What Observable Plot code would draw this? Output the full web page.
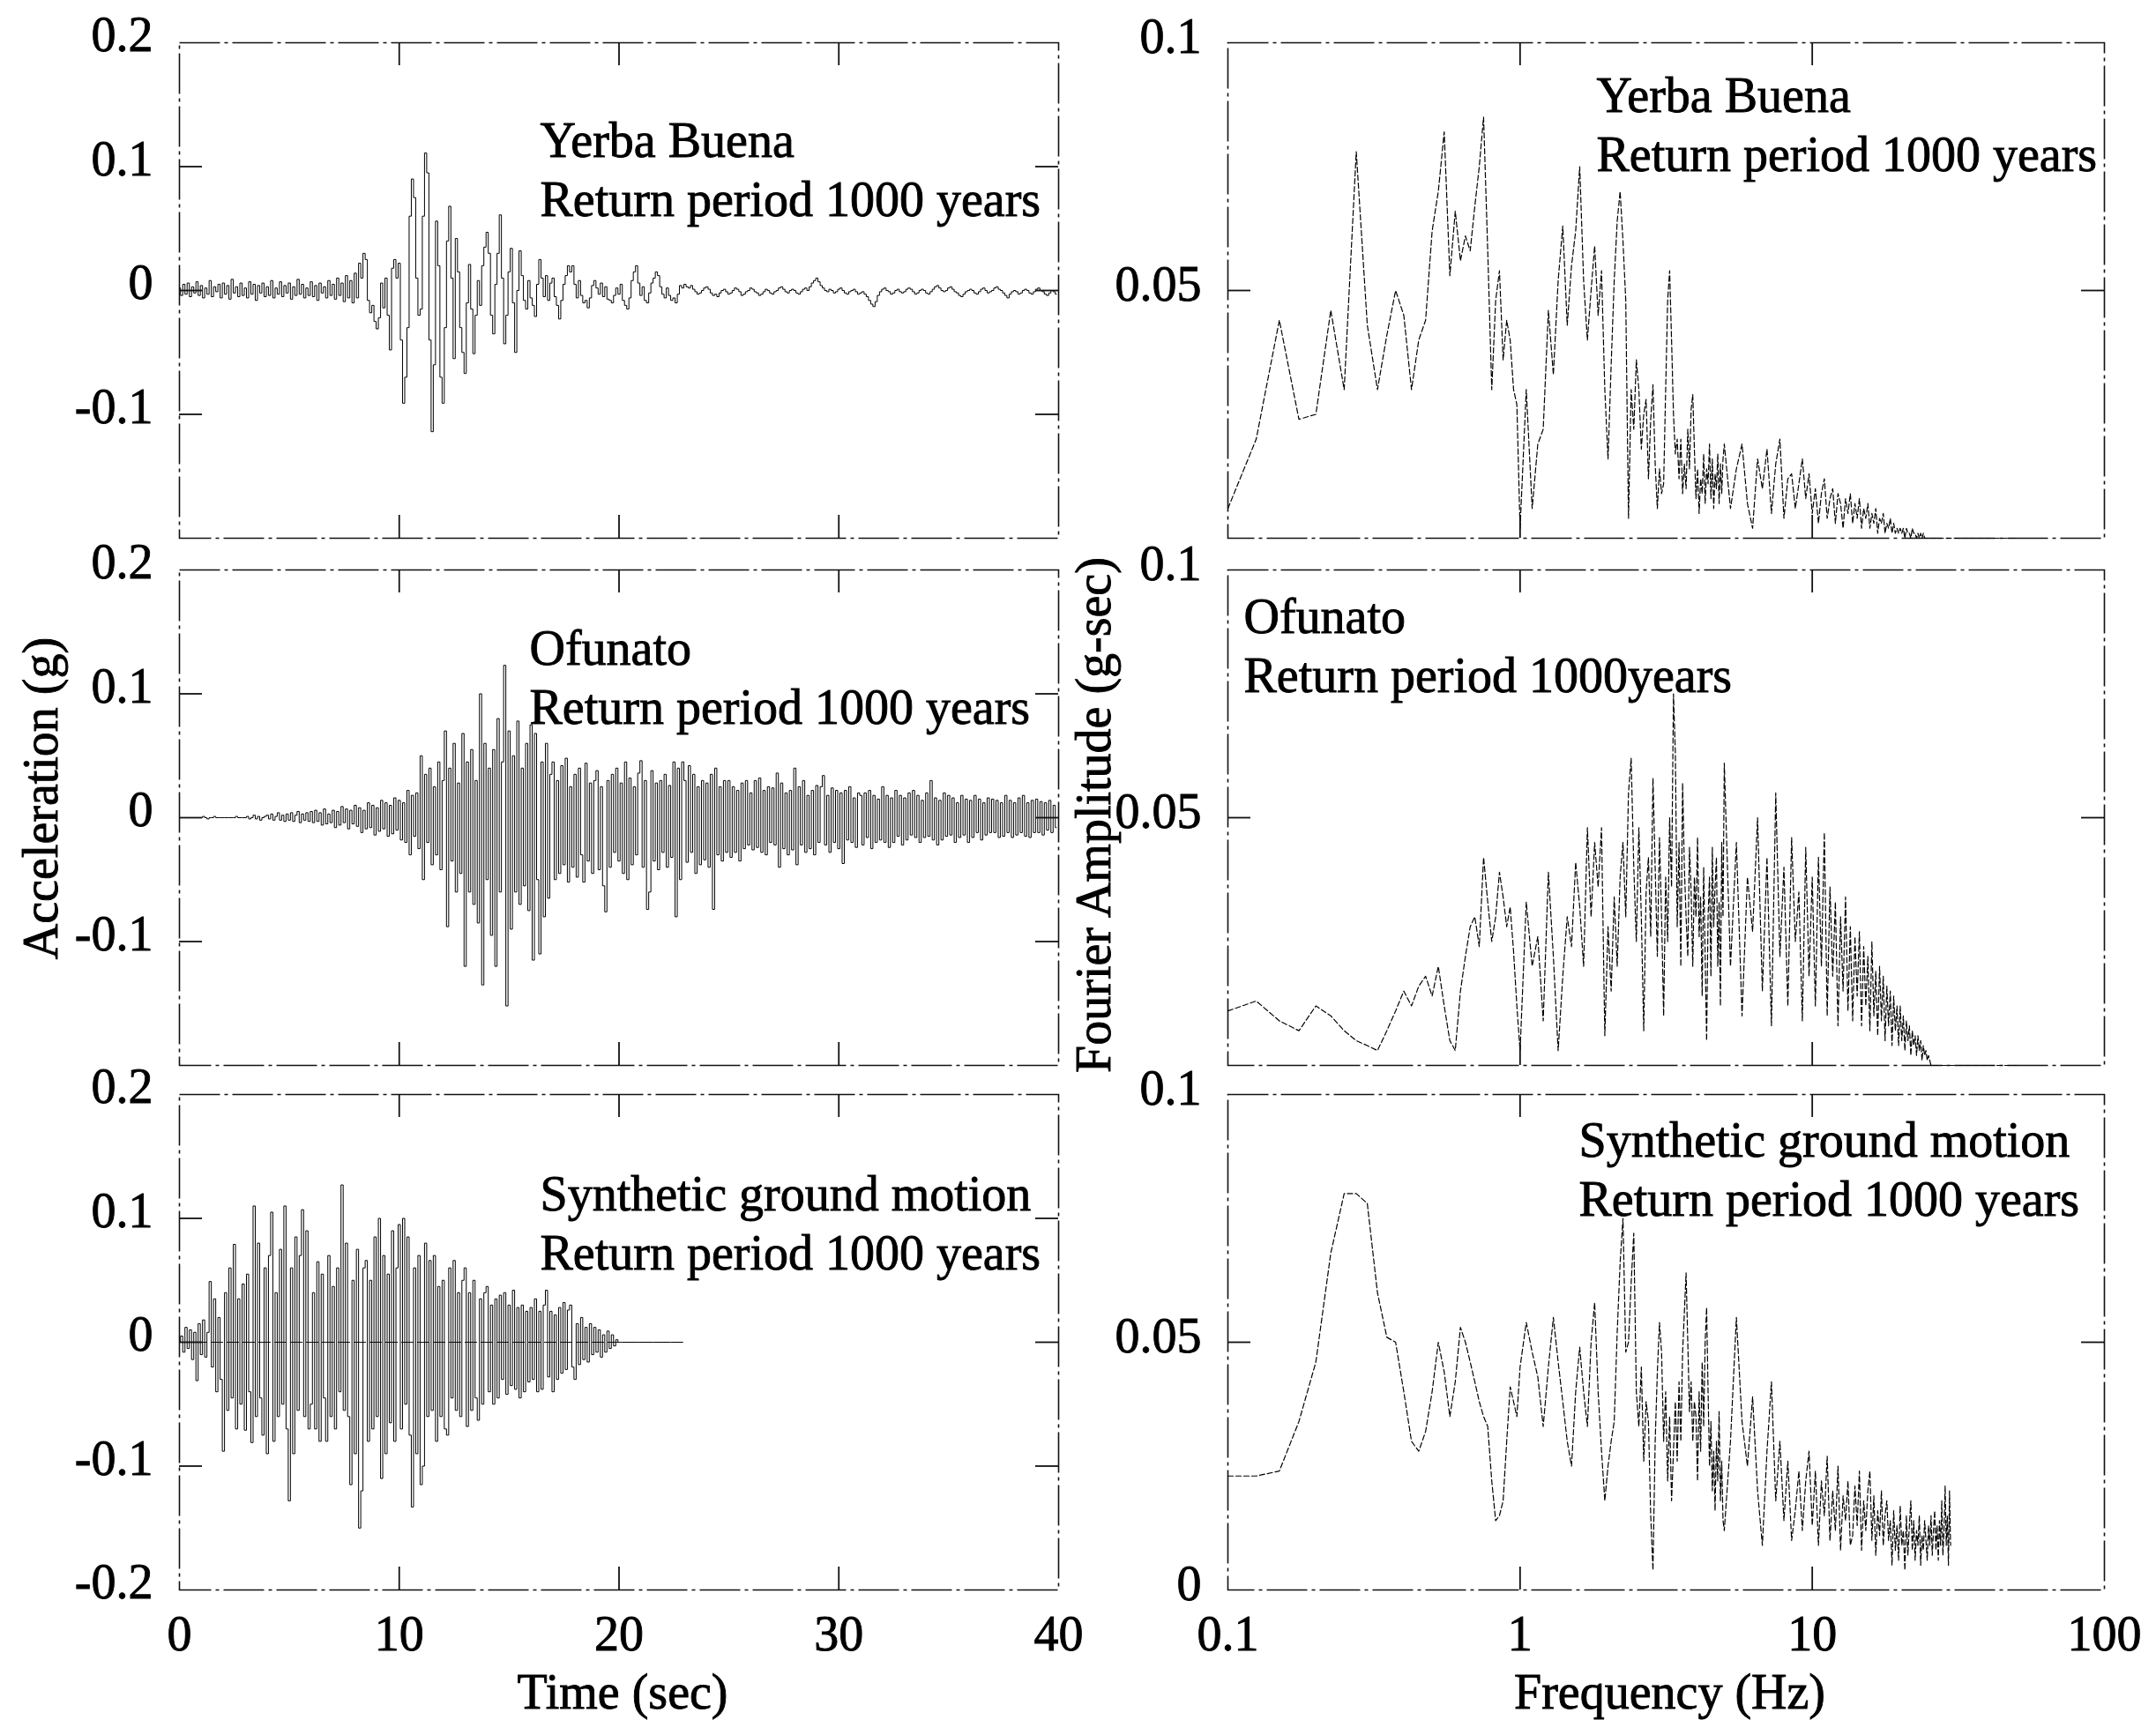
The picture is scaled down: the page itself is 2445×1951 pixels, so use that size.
<!DOCTYPE html>
<html><head><meta charset="utf-8">
<script src="https://cdn.jsdelivr.net/npm/d3@7"></script>
<script src="https://cdn.jsdelivr.net/npm/@observablehq/plot@0.6"></script>
<style>
html,body{margin:0;padding:0;background:#fff;}
#chart{position:relative;width:2445px;height:1951px;background:#fff;overflow:hidden;}
#chart svg{position:absolute;left:0;top:0;}
#chart svg text{stroke:#000;stroke-width:0.9px;paint-order:stroke;}
</style></head>
<body><div id="chart"></div>
<script>
// ---------------- DATA ----------------
// Acceleration time histories, sampled every 0.1 s, values in thousandths of g (mg)
const timeStep = 0.1;
const yerbaBuenaAccel = [
  2,-4,5,-3,6,-5,3,-2,7,-4,
  4,-6,2,-3,8,-5,3,-1,5,-6,
  6,-3,4,-7,9,-2,3,-5,6,-4,
  2,-6,7,-3,5,-8,4,-2,6,-5,
  3,-4,8,-6,2,-3,7,-5,4,-2,
  6,-7,3,-4,9,-3,5,-6,2,-4,
  7,-5,4,-8,6,-2,3,-6,8,-4,
  5,-7,10,-4,6,-9,12,-6,8,-10,
  14,-6,22,10,30,25,-8,-18,-12,-25,
  -31,-22,6,-14,10,-20,-48,18,25,10,
  22,-40,-91,-70,-30,60,90,75,10,-20,
  -15,60,111,95,-40,-114,-60,56,20,-70,
  -91,-30,40,68,10,-55,42,15,-30,-50,
  -67,-10,21,-15,-51,-20,8,-12,20,35,
  47,30,-20,-35,5,30,61,10,-43,-20,
  15,34,-10,-50,0,32,12,-8,-15,8,
  -6,-12,-21,5,25,10,-5,12,-8,6,
  10,-5,-12,-23,-8,5,12,20,15,20,
  5,-6,8,-4,-10,-8,-14,-6,4,8,
  2,-3,6,-5,3,-7,-8,-10,-4,2,
  -3,5,-8,-12,-15,-6,8,15,20,6,
  -4,3,-8,-10,-2,6,10,15,12,3,
  -3,-6,2,-4,-8,-6,-10,-3,4,2,
  5,3,2,4,1,-1,-3,-2,0,2,
  3,1,-2,-4,-3,-5,-2,0,1,-1,
  -3,-2,0,2,1,-1,-4,-3,-1,0,
  2,1,-1,-2,-4,-3,-1,1,0,-2,
  -3,-1,0,2,3,1,-1,-2,0,1,
  0,-2,-3,-1,1,2,0,3,6,8,
  10,7,4,2,0,-1,1,0,-2,-1,
  1,2,0,-2,-3,-1,0,1,-1,-3,
  -2,-1,-3,-5,-8,-11,-13,-9,-4,-1,
  1,2,0,-1,-3,-2,0,1,-1,-2,
  -1,1,2,1,-1,-3,-2,0,1,0,
  -2,-3,-1,1,3,4,2,0,-1,0,
  2,3,1,-1,-2,-4,-5,-3,-1,0,
  1,0,-2,-3,-1,1,2,0,-2,-1,
  0,2,3,1,0,-2,-4,-6,-3,-1,
  0,-1,-3,-2,0,1,0,-2,-3,-1,
  1,2,0,-1,-3,-4,-2,0,-1,-3
];
const ofunatoAccel = [
  0,0,0,0,0,0,0,0,0,0,
  0,1,0,-1,0,0,1,0,0,0,
  0,0,0,0,0,0,1,0,0,0,
  0,1,-1,0,2,-1,1,-2,0,1,
  2,-1,3,-2,1,4,-2,2,-3,3,
  -2,4,-3,2,5,-4,3,-2,4,-3,
  5,-4,6,-3,4,-6,7,-5,3,-4,
  6,-8,5,-6,9,-4,7,-9,6,-5,
  10,-7,8,-12,6,-9,12,-8,10,-14,
  8,-11,14,-9,12,-15,10,-13,16,-10,
  14,-18,12,-20,22,-30,18,-15,20,-25,
  50,-50,35,-20,40,-38,25,-30,45,-42,
  30,70,-88,40,-35,60,-60,28,-45,68,
  -120,45,-60,55,-70,30,-85,100,-135,60,
  -50,40,-95,55,-120,80,-60,45,123,-152,
  70,-90,50,-60,78,-70,40,-55,60,-75,
  75,-115,68,-50,-110,45,-80,60,-65,35,
  45,-50,30,-45,42,-38,48,-52,25,-40,
  35,-48,40,-30,-52,44,-35,28,-45,30,
  38,-42,25,-55,-76,30,-40,35,-28,40,
  -35,28,-45,45,-50,32,-38,25,-30,36,
  46,-40,30,-74,-60,38,-35,28,-42,30,
  -28,35,-40,26,-32,45,-80,40,-50,45,
  30,-36,42,-28,35,-45,25,-38,30,-34,
  28,-40,35,-74,40,-30,25,-35,30,-28,
  30,-32,25,-28,22,-35,28,-25,30,-22,
  20,-26,30,-24,32,-28,22,-30,25,-20,
  24,-22,36,-40,28,-25,20,-30,22,-26,
  40,-38,25,-22,30,-28,18,-25,22,-30,
  26,-20,25,34,-22,18,-28,24,-20,22,
  -25,20,-37,22,-18,25,-20,16,-24,20,
  18,-22,20,-16,22,-25,18,-20,15,-18,
  25,-20,18,-24,16,-20,22,-15,18,-22,
  16,-18,20,-14,22,-16,18,-20,14,-16,
  20,-15,30,-18,16,-22,14,-18,20,-15,
  18,-14,16,-20,12,-16,18,-14,15,-20,
  14,-16,18,-12,15,-18,12,-14,16,-12,
  15,-12,14,-16,12,-15,18,-12,14,-16,
  12,-14,16,-12,18,-15,12,-16,14,-12,
  15,-12,13,-14,12,-10,14,-12,10,-8
];
const syntheticAccel = [
  0,5,-8,12,-5,10,-14,8,-31,15,
  -10,18,-12,8,49,-20,35,-40,20,-30,
  -88,40,-55,60,-45,79,-70,35,-50,47,
  -71,55,-40,-81,110,-60,80,-45,-75,60,
  -90,70,105,-80,40,-60,75,-50,110,-70,
  -128,60,-90,85,-55,70,107,-60,90,-70,
  -50,40,-70,65,-80,55,-45,-80,70,-60,
  45,-70,60,-40,127,-55,80,-60,-115,50,
  -90,75,-150,-120,60,66,-80,50,-70,85,
  -60,100,-110,70,-90,55,-65,90,-80,60,
  95,-70,100,-50,85,-75,-133,60,-90,70,
  -115,-100,80,-60,66,-55,70,-80,45,-60,
  50,-70,-75,60,-45,66,-55,40,-60,50,
  60,-68,40,-55,50,-45,-63,35,-50,40,
  45,-40,30,-50,35,-45,38,-30,40,-42,
  30,-35,42,-38,28,-45,30,-40,25,-32,
  28,-30,35,-40,25,-38,30,42,-28,25,
  -40,22,-30,28,-25,32,-22,26,30,-20,
  -30,15,-18,20,-14,12,-16,15,-10,12,
  -8,10,-12,6,-8,9,-5,6,-3,2,
  0,0,0,0,0,0,0,0,0,0,
  0,0,0,0,0,0,0,0,0,0,
  0,0,0,0,0,0,0,0,0,0
];

// Fourier amplitude spectra (thousandths of g-sec) on the frequency grid below
const fourierGrid = [
  {start: 0.1, step: 0.025, count: 36},
  {start: 1.0, step: 0.05, count: 80},
  {start: 5.0, step: 0.25, count: 100}
];
const fourierTailFreqs = [30, 40, 50];
const yerbaBuenaFourier = [
  6,20,44,24,25,46,30,78,43,30,41,50,45,30,40,44,62,70,82,53,66,56,61,58,67,75,85,58,30,48,54,36,44,40,30,27,
  2,30,6,19,22,46,33,52,63,43,
  55,62,75,52,40,50,59,45,54,30,
  16,35,52,64,70,60,48,4,30,22,
  36,30,18,25,28,12,24,31,15,6,
  14,9,11,30,48,54,40,25,17,20,
  12,20,9,15,10,22,14,26,29,18,
  8,14,5,12,9,17,7,14,11,19,
  8,16,6,13,10,17,7,15,9,16,
  19,6,14,19,7,2,16,10,18,5,15,20,4,12,13,6,11,16,8,13,
  5,10,3,9,12,4,8,10,3,9,7,2,8,5,9,3,7,4,8,2,
  6,4,7,2,5,3,6,1,4,3,5,1,3,2,4,1,3,1,2,1,
  2,1,2,0,2,1,1,0,2,1,1,0,1,0,1,0,1,0,0,0,
  0,0,0,0,0,0,0,0,0,0,0,0,0,0,0,0,0,0,0,0,
  0,0,0
];
const ofunatoFourier = [
  11,13,9,7,12,10,7,5,4,3,7,11,15,12,16,18,14,20,12,5,3,15,22,28,30,24,42,33,25,30,39,34,28,32,23,12,
  3,33,20,26,9,39,22,3,18,30,
  24,41,32,20,48,30,45,36,48,6,
  28,15,34,20,38,45,30,55,62,40,
  25,48,30,7,35,42,26,58,40,22,
  46,30,10,38,25,50,36,75,63,28,
  45,20,57,40,30,22,44,35,20,38,
  30,46,26,34,14,40,22,5,30,38,
  18,44,28,36,42,20,33,12,45,30,
  61,20,45,10,38,27,50,15,42,8,55,22,40,12,46,25,35,9,44,18,
  38,12,42,20,47,10,36,18,33,8,30,15,34,11,28,9,26,14,27,8,
  24,12,22,7,25,10,19,6,20,9,18,5,16,8,15,4,14,7,12,4,
  12,5,10,3,9,5,8,2,7,4,6,2,6,3,5,1,4,2,3,1,
  2,1,0,0,0,0,0,0,0,0,0,0,0,0,0,0,0,0,0,0,
  0,0,0
];
const syntheticFourier = [
  23,23,24,34,46,68,80,80,78,60,51,50,40,30,28,32,40,50,44,35,42,53,50,46,42,38,35,33,22,14,15,18,30,41,38,35,
  45,54,48,43,33,45,55,46,38,30,
  25,40,49,40,33,50,58,40,28,18,
  25,30,34,52,66,75,48,50,62,72,
  40,33,45,26,38,34,15,4,30,44,
  54,48,30,40,22,35,18,28,38,26,
  42,30,48,56,64,50,36,42,30,38,
  35,22,40,28,46,33,50,57,40,25,
  34,20,28,16,30,22,36,18,26,14,
  12,30,55,34,25,39,20,9,28,42,18,30,14,26,10,16,24,12,22,28,
  13,24,9,22,15,27,10,20,12,25,8,19,14,22,9,11,21,13,24,8,
  18,12,20,24,10,19,7,16,11,20,9,15,18,10,14,5,16,8,13,6,
  17,9,12,4,15,7,13,18,8,14,6,12,9,15,5,11,8,14,10,6,
  13,9,15,7,12,16,8,13,6,14,9,18,7,12,21,9,15,5,20,9
];

// Axis ticks and labels
const timeDomain = [0, 40];
const timeTickLabels = [0, 10, 20, 30, 40];
const timeInnerTicks = [10, 20, 30];
const accelDomain = [-0.2, 0.2];
const accelTickLabels = [0.2, 0.1, 0, -0.1];
const accelTickLabelsBottom = [0.2, 0.1, 0, -0.1, -0.2];
const accelInnerTicks = [0.1, 0, -0.1];
const freqDomain = [0.1, 100];
const freqTickLabels = [0.1, 1, 10, 100];
const freqInnerTicks = [1, 10];
const ampDomain = [0, 0.1];
const ampTickLabels = [0.1, 0.05];
const ampTickLabelsBottom = [0.1, 0.05, 0];
const ampInnerTicks = [0.05];

const leftNotes = [
  "Yerba Buena\nReturn period 1000 years",
  "Ofunato\nReturn period 1000 years",
  "Synthetic ground motion\nReturn period 1000 years"
];
const rightNotes = [
  "Yerba Buena\nReturn period 1000 years",
  "Ofunato\nReturn period 1000years",
  "Synthetic ground motion\nReturn period 1000 years"
];

// ---------------- BUILD ----------------
const W = 2445, H = 1951;
const FONT = "'Liberation Serif', 'Times New Roman', serif";
const FS = 56;
const cols = {left: [203, 1200], right: [1392, 2386]};
const rows = [[48, 610], [646, 1208], [1241, 1803]];
const TICK = 26;

const toSeries = arr => arr.map((v, i) => ({t: +(i * timeStep).toFixed(2), a: v / 1000}));
const freqs = fourierGrid.flatMap(s => d3.range(s.count).map(i => +(s.start + i * s.step).toFixed(3))).concat(fourierTailFreqs);
const toSpectrum = arr => arr.map((v, i) => ({f: freqs[i], a: v / 1000}));

const accelSeries = [yerbaBuenaAccel, ofunatoAccel, syntheticAccel].map(toSeries);
const spectra = [yerbaBuenaFourier, ofunatoFourier, syntheticFourier].map(toSpectrum);

const frameStyle = {stroke: "#111", strokeWidth: 1.6, strokeDasharray: "46,5,4,5"};
const traceStyle = {stroke: "#000", strokeWidth: 1.0};
const spectrumStyle = {stroke: "#000", strokeWidth: 1.2, strokeDasharray: "6,3"};
const fmt = d => String(d);

function innerTicks(xTicks, yTicks, fw, fh) {
  const st = {stroke: "#111", strokeWidth: 1.8};
  return [
    Plot.tickY(yTicks, {y: d => d, insetRight: fw - TICK, ...st}),
    Plot.tickY(yTicks, {y: d => d, insetLeft: fw - TICK, ...st}),
    Plot.tickX(xTicks, {x: d => d, insetTop: fh - TICK, ...st}),
    Plot.tickX(xTicks, {x: d => d, insetBottom: fh - TICK, ...st})
  ];
}

function panel({col, row, x, y, marks}) {
  const [L, R] = cols[col], [T, B] = rows[row];
  const svg = Plot.plot({
    width: W, height: H,
    marginLeft: L, marginRight: W - R, marginTop: T, marginBottom: H - B,
    x: {...x, axis: null},
    y: {...y, axis: null},
    style: {fontFamily: FONT, color: "#000", background: "transparent", overflow: "visible"},
    marks: marks(R - L, B - T)
  });
  document.getElementById("chart").appendChild(svg);
}

// Left column: acceleration time histories
rows.forEach((_, r) => {
  const bottom = r === 2;
  panel({
    col: "left", row: r,
    x: {type: "linear", domain: timeDomain},
    y: {type: "linear", domain: accelDomain},
    marks: (fw, fh) => [
      Plot.frame(frameStyle),
      r === 2 ? Plot.ruleY([0], {x1: d3.min(accelSeries[2], d => d.t), x2: d3.max(accelSeries[2], d => d.t), stroke: "#111", strokeWidth: 1, strokeDasharray: "14,4"}) : null,
      Plot.line(accelSeries[r], {x: "t", y: "a", curve: "step", ...traceStyle}),
      ...innerTicks(timeInnerTicks, accelInnerTicks, fw, fh),
      Plot.axisY(bottom ? accelTickLabelsBottom : accelTickLabels, {anchor: "left", tickSize: 0, tickPadding: 30, tickFormat: fmt, fontSize: FS, dy: -8, label: null}),
      bottom ? Plot.axisX(timeTickLabels, {anchor: "bottom", tickSize: 0, tickPadding: 29, tickFormat: fmt, fontSize: FS, label: null}) : null,
      Plot.text([leftNotes[r]], {frameAnchor: "top-left", dx: [409, 397, 409][r], dy: [82, 60, 84][r], textAnchor: "start", lineAnchor: "top", lineHeight: 1.2, fontSize: FS}),
      r === 1 ? Plot.text(["Acceleration (g)"], {frameAnchor: "left", rotate: -90, textAnchor: "middle", lineAnchor: "bottom", dx: -139, dy: -22, fontSize: FS}) : null,
      bottom ? Plot.text(["Time (sec)"], {frameAnchor: "bottom", textAnchor: "middle", lineAnchor: "bottom", dx: 4, dy: 134, fontSize: FS}) : null
    ]
  });
});

// Right column: Fourier amplitude spectra
rows.forEach((_, r) => {
  const bottom = r === 2;
  panel({
    col: "right", row: r,
    x: {type: "log", domain: freqDomain},
    y: {type: "linear", domain: ampDomain},
    marks: (fw, fh) => [
      Plot.frame(frameStyle),
      Plot.line(spectra[r], {x: "f", y: "a", ...spectrumStyle}),
      ...innerTicks(freqInnerTicks, ampInnerTicks, fw, fh),
      Plot.axisY(bottom ? ampTickLabelsBottom : ampTickLabels, {anchor: "left", tickSize: 0, tickPadding: 30, tickFormat: fmt, fontSize: FS, dy: -6, label: null}),
      bottom ? Plot.axisX(freqTickLabels, {anchor: "bottom", tickSize: 0, tickPadding: 29, tickFormat: fmt, fontSize: FS, label: null}) : null,
      Plot.text([rightNotes[r]], {frameAnchor: "top-left", dx: [418, 18, 398][r], dy: [31, 24, 23][r], textAnchor: "start", lineAnchor: "top", lineHeight: 1.2, fontSize: FS}),
      r === 1 ? Plot.text(["Fourier Amplitude (g-sec)"], {frameAnchor: "left", rotate: -90, textAnchor: "middle", lineAnchor: "bottom", dx: -134, dy: -3, fontSize: FS}) : null,
      bottom ? Plot.text(["Frequency (Hz)"], {frameAnchor: "bottom", textAnchor: "middle", lineAnchor: "bottom", dx: 4, dy: 134, fontSize: FS}) : null
    ]
  });
});
</script>
</body></html>
